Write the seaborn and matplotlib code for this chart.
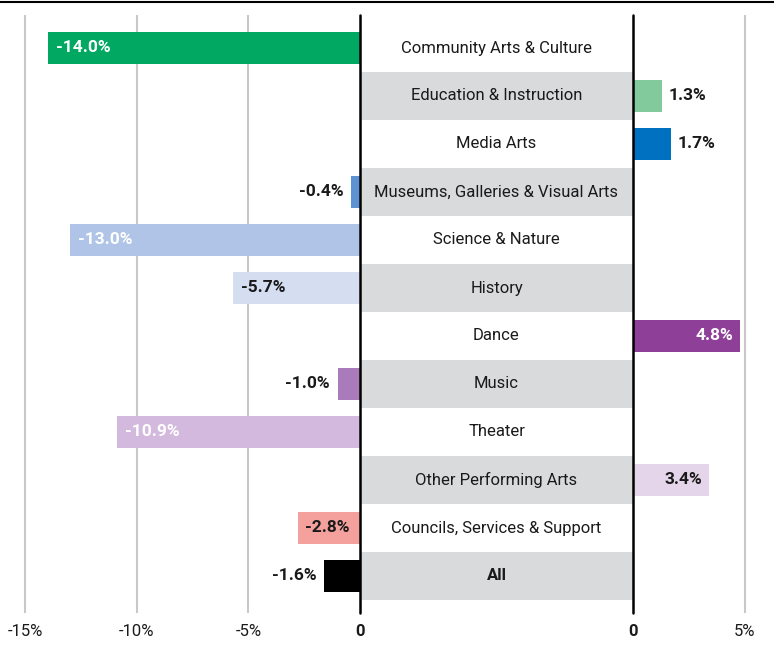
import matplotlib
matplotlib.use("Agg")
import matplotlib.pyplot as plt
import seaborn as sns

# ---- data -------------------------------------------------------------
categories = [
    "Community Arts & Culture",
    "Education & Instruction",
    "Media Arts",
    "Museums, Galleries & Visual Arts",
    "Science & Nature",
    "History",
    "Dance",
    "Music",
    "Theater",
    "Other Performing Arts",
    "Councils, Services & Support",
    "All",
]
changes = [-14.0, 1.3, 1.7, -0.4, -13.0, -5.7, 4.8, -1.0, -10.9, 3.4, -2.8, -1.6]
left_ticks = [-15, -10, -5, 0]
left_tick_labels = ["-15%", "-10%", "-5%", "0"]
right_ticks = [0, 5]
right_tick_labels = ["0", "5%"]

# ---- styling ----------------------------------------------------------
bar_colors = ["#00A862", "#82C99C", "#0070C0", "#5E93D3", "#AFC4E6", "#D4DEF0",
              "#8E3F98", "#A97BBB", "#D3B9DD", "#E5D5EA", "#F4A19D", "#000000"]
inside_text = {"#00A862": "white", "#AFC4E6": "white", "#D3B9DD": "white",
               "#8E3F98": "white", "#D4DEF0": "#1a1a1a", "#F4A19D": "#1a1a1a",
               "#E5D5EA": "#1a1a1a"}
band_color = "#D9DADB"
grid_color = "#C8C8C8"
ink = "#1a1a1a"

sns.set_theme(style="white")
plt.rcParams["font.family"] = ["Roboto", "DejaVu Sans"]

W, H = 774, 648
fig = plt.figure(figsize=(W / 100, H / 100), dpi=100)

px_per_unit = 22.3
top_px, bot_px = 15, 613
row_px = 48
first_center_px = 48
n = len(categories)
y_top = (top_px - first_center_px) / row_px
y_bot = (bot_px - first_center_px) / row_px


def fig_rect(x0, x1):
    return [x0 / W, 1 - bot_px / H, (x1 - x0) / W, (bot_px - top_px) / H]


zero_l, zero_r = 360, 633
ax_l = fig.add_axes(fig_rect(5, zero_l))
ax_c = fig.add_axes(fig_rect(zero_l, zero_r))
ax_r = fig.add_axes(fig_rect(zero_r, 765))

neg = [min(v, 0.0) for v in changes]
pos = [max(v, 0.0) for v in changes]

for ax, vals in ((ax_l, neg), (ax_r, pos)):
    sns.barplot(x=vals, y=categories, hue=categories, palette=bar_colors,
                hue_order=categories, order=categories, legend=False,
                orient="h", width=0.667, saturation=1, linewidth=0, ax=ax)

ax_l.set_xlim(-(zero_l - 5) / px_per_unit, 0)
ax_r.set_xlim(0, (765 - zero_r) / px_per_unit)
for ax in (ax_l, ax_c, ax_r):
    ax.set_ylim(y_bot, y_top)
    for s in ax.spines.values():
        s.set_visible(False)
    ax.set_yticks([])
    ax.set_ylabel("")
    ax.set_facecolor("none")

# vertical gridlines
for ax, ticks in ((ax_l, left_ticks), (ax_r, right_ticks)):
    for t in ticks:
        if t == 0:
            continue
        ax.axvline(t, color=grid_color, lw=1.5, zorder=0)

ax_l.set_xticks(left_ticks)
ax_l.set_xticklabels(left_tick_labels)
ax_r.set_xticks(right_ticks)
ax_r.set_xticklabels(right_tick_labels)
for ax in (ax_l, ax_r):
    ax.tick_params(axis="x", length=0, pad=8, labelsize=12, colors=ink)
    for lab in ax.get_xticklabels():
        if lab.get_text() == "0":
            lab.set_fontweight("bold")

# center label panel with alternating bands
ax_c.set_xlim(0, 1)
ax_c.set_xticks([])
for i, cat in enumerate(categories):
    if i % 2 == 1:
        ax_c.axhspan(i - 0.5, i + 0.5, color=band_color, lw=0, zorder=0)
    ax_c.text(0.5, i, cat, ha="center", va="center", fontsize=12, color=ink,
              fontweight="bold" if cat == "All" else "normal")

# zero lines bounding the label panel
for xz in (zero_l, zero_r):
    fig.add_artist(plt.Line2D([xz / W] * 2, [1 - bot_px / H, 1 - top_px / H],
                              color="black", lw=1.8))
# top rule
fig.add_artist(plt.Line2D([0, 1], [1 - 2 / H] * 2, color="black", lw=1.5))

# value labels
pad = 0.35
for i, (v, c) in enumerate(zip(changes, bar_colors)):
    label = f"{v:.1f}%"
    ax = ax_l if v < 0 else ax_r
    inside = abs(v) >= 2.5
    kw = dict(va="center", fontsize=12.5, fontweight="bold")
    if v < 0:
        if inside:
            ax.text(v + pad, i, label, ha="left",
                    color=inside_text.get(c, "white"), **kw)
        else:
            ax.text(v - pad, i, label, ha="right", color=ink, **kw)
    else:
        if inside:
            ax.text(v - pad * 0.8, i, label, ha="right",
                    color=inside_text.get(c, "white"), **kw)
        else:
            ax.text(v + pad * 0.8, i, label, ha="left", color=ink, **kw)

fig.savefig("out.png", dpi=100)
